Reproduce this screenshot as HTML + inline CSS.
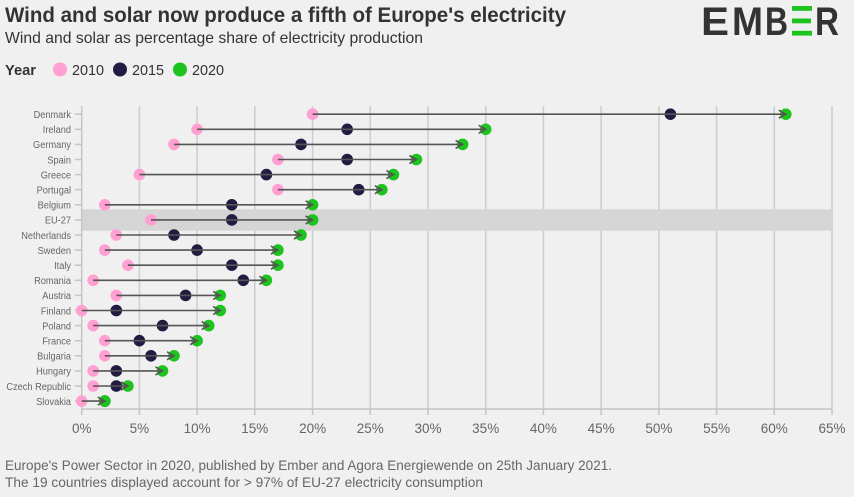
<!DOCTYPE html>
<html>
<head>
<meta charset="utf-8">
<style>
  html,body{margin:0;padding:0;background:#f0f0f0;}
  body{width:854px;height:497px;overflow:hidden;}
  svg{display:block;font-family:"Liberation Sans",sans-serif;}
  .p{fill:#ff9fd2;}
  .n{fill:#221c42;}
  .g{fill:#1ec41e;}
  .ln{stroke:#555;stroke-width:1.6;fill:none;}
  .lab{font-size:10.5px;fill:#666;text-anchor:end;}
  .tk{font-size:13.5px;fill:#666;text-anchor:middle;}
</style>
</head>
<body>
<svg width="854" height="497" viewBox="0 0 854 497" xmlns="http://www.w3.org/2000/svg">
  <rect x="0" y="0" width="854" height="497" fill="#f0f0f0"/>

  <!-- Title -->
  <text x="5" y="22" font-size="21" font-weight="bold" fill="#333" textLength="561" lengthAdjust="spacingAndGlyphs">Wind and solar now produce a fifth of Europe's electricity</text>
  <text x="5" y="43" font-size="16" fill="#333" textLength="418" lengthAdjust="spacingAndGlyphs">Wind and solar as percentage share of electricity production</text>

  <!-- Logo -->
  <g fill="#333" font-weight="bold" font-size="40">
    <text x="701" y="35" textLength="28" lengthAdjust="spacingAndGlyphs">E</text>
    <text x="732" y="35" textLength="31" lengthAdjust="spacingAndGlyphs">M</text>
    <text x="765" y="35" textLength="23" lengthAdjust="spacingAndGlyphs">B</text>
    <text x="815" y="35" textLength="24" lengthAdjust="spacingAndGlyphs">R</text>
  </g>
  <g fill="#1ec41e">
    <rect x="792" y="6" width="20" height="4.8"/>
    <rect x="792" y="18.5" width="19" height="4.8"/>
    <rect x="792" y="30.8" width="20" height="4.8"/>
  </g>

  <!-- Legend -->
  <text x="5" y="75" font-size="15" font-weight="bold" fill="#333" textLength="31" lengthAdjust="spacingAndGlyphs">Year</text>
  <circle cx="60" cy="69.5" r="7" class="p"/>
  <text x="72" y="75" font-size="15" fill="#333" textLength="32" lengthAdjust="spacingAndGlyphs">2010</text>
  <circle cx="120" cy="69.5" r="7" class="n"/>
  <text x="132" y="75" font-size="15" fill="#333" textLength="32" lengthAdjust="spacingAndGlyphs">2015</text>
  <circle cx="180" cy="69.5" r="7" class="g"/>
  <text x="192" y="75" font-size="15" fill="#333" textLength="32" lengthAdjust="spacingAndGlyphs">2020</text>

  <!-- Gridlines -->
  <g stroke="#cdcdcd" stroke-width="1.5">
    <line x1="139.4" y1="106" x2="139.4" y2="409"/>
    <line x1="197.1" y1="106" x2="197.1" y2="409"/>
    <line x1="254.8" y1="106" x2="254.8" y2="409"/>
    <line x1="312.6" y1="106" x2="312.6" y2="409"/>
    <line x1="370.3" y1="106" x2="370.3" y2="409"/>
    <line x1="428.0" y1="106" x2="428.0" y2="409"/>
    <line x1="485.7" y1="106" x2="485.7" y2="409"/>
    <line x1="543.4" y1="106" x2="543.4" y2="409"/>
    <line x1="601.1" y1="106" x2="601.1" y2="409"/>
    <line x1="658.9" y1="106" x2="658.9" y2="409"/>
    <line x1="716.6" y1="106" x2="716.6" y2="409"/>
    <line x1="774.3" y1="106" x2="774.3" y2="409"/>
    <line x1="832.0" y1="106" x2="832.0" y2="409"/>
  </g>

  <!-- EU-27 highlight band -->
  <rect x="81.7" y="209.3" width="750.3" height="21.4" fill="#d5d5d5"/>

  <!-- Axes -->
  <g stroke="#c4c4c4" stroke-width="1.5">
    <line x1="81.7" y1="106" x2="81.7" y2="409"/>
    <line x1="81.7" y1="409" x2="832" y2="409"/>
    <!-- x ticks -->
    <line x1="81.7" y1="409" x2="81.7" y2="415"/>
    <line x1="139.4" y1="409" x2="139.4" y2="415"/>
    <line x1="197.1" y1="409" x2="197.1" y2="415"/>
    <line x1="254.8" y1="409" x2="254.8" y2="415"/>
    <line x1="312.6" y1="409" x2="312.6" y2="415"/>
    <line x1="370.3" y1="409" x2="370.3" y2="415"/>
    <line x1="428.0" y1="409" x2="428.0" y2="415"/>
    <line x1="485.7" y1="409" x2="485.7" y2="415"/>
    <line x1="543.4" y1="409" x2="543.4" y2="415"/>
    <line x1="601.1" y1="409" x2="601.1" y2="415"/>
    <line x1="658.9" y1="409" x2="658.9" y2="415"/>
    <line x1="716.6" y1="409" x2="716.6" y2="415"/>
    <line x1="774.3" y1="409" x2="774.3" y2="415"/>
    <line x1="832.0" y1="409" x2="832.0" y2="415"/>
    <!-- y ticks -->
    <line x1="75" y1="114.2" x2="81.7" y2="114.2"/>
    <line x1="75" y1="129.3" x2="81.7" y2="129.3"/>
    <line x1="75" y1="144.4" x2="81.7" y2="144.4"/>
    <line x1="75" y1="159.5" x2="81.7" y2="159.5"/>
    <line x1="75" y1="174.6" x2="81.7" y2="174.6"/>
    <line x1="75" y1="189.7" x2="81.7" y2="189.7"/>
    <line x1="75" y1="204.8" x2="81.7" y2="204.8"/>
    <line x1="75" y1="219.9" x2="81.7" y2="219.9"/>
    <line x1="75" y1="235.0" x2="81.7" y2="235.0"/>
    <line x1="75" y1="250.1" x2="81.7" y2="250.1"/>
    <line x1="75" y1="265.2" x2="81.7" y2="265.2"/>
    <line x1="75" y1="280.3" x2="81.7" y2="280.3"/>
    <line x1="75" y1="295.4" x2="81.7" y2="295.4"/>
    <line x1="75" y1="310.5" x2="81.7" y2="310.5"/>
    <line x1="75" y1="325.6" x2="81.7" y2="325.6"/>
    <line x1="75" y1="340.7" x2="81.7" y2="340.7"/>
    <line x1="75" y1="355.8" x2="81.7" y2="355.8"/>
    <line x1="75" y1="370.9" x2="81.7" y2="370.9"/>
    <line x1="75" y1="386.0" x2="81.7" y2="386.0"/>
    <line x1="75" y1="401.1" x2="81.7" y2="401.1"/>
  </g>

  <!-- Y labels -->
  <g transform="translate(71,0) scale(0.88,1)">
    <text class="lab" x="0" y="118">Denmark</text>
    <text class="lab" x="0" y="133.1">Ireland</text>
    <text class="lab" x="0" y="148.2">Germany</text>
    <text class="lab" x="0" y="163.3">Spain</text>
    <text class="lab" x="0" y="178.4">Greece</text>
    <text class="lab" x="0" y="193.5">Portugal</text>
    <text class="lab" x="0" y="208.6">Belgium</text>
    <text class="lab" x="0" y="223.7">EU-27</text>
    <text class="lab" x="0" y="238.8">Netherlands</text>
    <text class="lab" x="0" y="253.9">Sweden</text>
    <text class="lab" x="0" y="269.0">Italy</text>
    <text class="lab" x="0" y="284.1">Romania</text>
    <text class="lab" x="0" y="299.2">Austria</text>
    <text class="lab" x="0" y="314.3">Finland</text>
    <text class="lab" x="0" y="329.4">Poland</text>
    <text class="lab" x="0" y="344.5">France</text>
    <text class="lab" x="0" y="359.6">Bulgaria</text>
    <text class="lab" x="0" y="374.7">Hungary</text>
    <text class="lab" x="0" y="389.8">Czech Republic</text>
    <text class="lab" x="0" y="404.9">Slovakia</text>
  </g>

  <!-- Rows -->
  <g transform="translate(0,114.2)"><circle cx="312.6" r="5.8" class="p"/><circle cx="670.4" r="5.8" class="n"/><circle cx="785.8" r="5.8" class="g"/><path class="ln" d="M312.6 0H785.8M778.8 -4L785.8 0L778.8 4"/></g>
  <g transform="translate(0,129.3)"><circle cx="197.1" r="5.8" class="p"/><circle cx="347.2" r="5.8" class="n"/><circle cx="485.7" r="5.8" class="g"/><path class="ln" d="M197.1 0H485.7M478.7 -4L485.7 0L478.7 4"/></g>
  <g transform="translate(0,144.4)"><circle cx="174.0" r="5.8" class="p"/><circle cx="301.0" r="5.8" class="n"/><circle cx="462.6" r="5.8" class="g"/><path class="ln" d="M174.0 0H462.6M455.6 -4L462.6 0L455.6 4"/></g>
  <g transform="translate(0,159.5)"><circle cx="277.9" r="5.8" class="p"/><circle cx="347.2" r="5.8" class="n"/><circle cx="416.4" r="5.8" class="g"/><path class="ln" d="M277.9 0H416.4M409.4 -4L416.4 0L409.4 4"/></g>
  <g transform="translate(0,174.6)"><circle cx="139.4" r="5.8" class="p"/><circle cx="266.4" r="5.8" class="n"/><circle cx="393.4" r="5.8" class="g"/><path class="ln" d="M139.4 0H393.4M386.4 -4L393.4 0L386.4 4"/></g>
  <g transform="translate(0,189.7)"><circle cx="277.9" r="5.8" class="p"/><circle cx="358.7" r="5.8" class="n"/><circle cx="381.8" r="5.8" class="g"/><path class="ln" d="M277.9 0H381.8M374.8 -4L381.8 0L374.8 4"/></g>
  <g transform="translate(0,204.8)"><circle cx="104.8" r="5.8" class="p"/><circle cx="231.8" r="5.8" class="n"/><circle cx="312.6" r="5.8" class="g"/><path class="ln" d="M104.8 0H312.6M305.6 -4L312.6 0L305.6 4"/></g>
  <g transform="translate(0,219.9)"><circle cx="151.0" r="5.8" class="p"/><circle cx="231.8" r="5.8" class="n"/><circle cx="312.6" r="5.8" class="g"/><path class="ln" d="M151.0 0H312.6M305.6 -4L312.6 0L305.6 4"/></g>
  <g transform="translate(0,235.0)"><circle cx="116.3" r="5.8" class="p"/><circle cx="174.0" r="5.8" class="n"/><circle cx="301.0" r="5.8" class="g"/><path class="ln" d="M116.3 0H301.0M294.0 -4L301.0 0L294.0 4"/></g>
  <g transform="translate(0,250.1)"><circle cx="104.8" r="5.8" class="p"/><circle cx="197.1" r="5.8" class="n"/><circle cx="277.9" r="5.8" class="g"/><path class="ln" d="M104.8 0H277.9M270.9 -4L277.9 0L270.9 4"/></g>
  <g transform="translate(0,265.2)"><circle cx="127.9" r="5.8" class="p"/><circle cx="231.8" r="5.8" class="n"/><circle cx="277.9" r="5.8" class="g"/><path class="ln" d="M127.9 0H277.9M270.9 -4L277.9 0L270.9 4"/></g>
  <g transform="translate(0,280.3)"><circle cx="93.2" r="5.8" class="p"/><circle cx="243.3" r="5.8" class="n"/><circle cx="266.4" r="5.8" class="g"/><path class="ln" d="M93.2 0H266.4M259.4 -4L266.4 0L259.4 4"/></g>
  <g transform="translate(0,295.4)"><circle cx="116.3" r="5.8" class="p"/><circle cx="185.6" r="5.8" class="n"/><circle cx="220.2" r="5.8" class="g"/><path class="ln" d="M116.3 0H220.2M213.2 -4L220.2 0L213.2 4"/></g>
  <g transform="translate(0,310.5)"><circle cx="81.7" r="5.8" class="p"/><circle cx="116.3" r="5.8" class="n"/><circle cx="220.2" r="5.8" class="g"/><path class="ln" d="M81.7 0H220.2M213.2 -4L220.2 0L213.2 4"/></g>
  <g transform="translate(0,325.6)"><circle cx="93.2" r="5.8" class="p"/><circle cx="162.5" r="5.8" class="n"/><circle cx="208.7" r="5.8" class="g"/><path class="ln" d="M93.2 0H208.7M201.7 -4L208.7 0L201.7 4"/></g>
  <g transform="translate(0,340.7)"><circle cx="104.8" r="5.8" class="p"/><circle cx="139.4" r="5.8" class="n"/><circle cx="197.1" r="5.8" class="g"/><path class="ln" d="M104.8 0H197.1M190.1 -4L197.1 0L190.1 4"/></g>
  <g transform="translate(0,355.8)"><circle cx="104.8" r="5.8" class="p"/><circle cx="151.0" r="5.8" class="n"/><circle cx="174.0" r="5.8" class="g"/><path class="ln" d="M104.8 0H174.0M167.0 -4L174.0 0L167.0 4"/></g>
  <g transform="translate(0,370.9)"><circle cx="93.2" r="5.8" class="p"/><circle cx="116.3" r="5.8" class="n"/><circle cx="162.5" r="5.8" class="g"/><path class="ln" d="M93.2 0H162.5M155.5 -4L162.5 0L155.5 4"/></g>
  <g transform="translate(0,386.0)"><circle cx="93.2" r="5.8" class="p"/><circle cx="116.3" r="5.8" class="n"/><circle cx="127.9" r="5.8" class="g"/><path class="ln" d="M93.2 0H127.9M120.9 -4L127.9 0L120.9 4"/></g>
  <g transform="translate(0,401.1)"><circle cx="81.7" r="5.8" class="p"/><circle cx="104.8" r="5.8" class="n"/><circle cx="104.8" r="5.8" class="g"/><path class="ln" d="M81.7 0H104.8M97.8 -4L104.8 0L97.8 4"/></g>

  <!-- X tick labels -->
  <g>
    <text class="tk" x="81.7" y="433">0%</text>
    <text class="tk" x="139.4" y="433">5%</text>
    <text class="tk" x="197.1" y="433">10%</text>
    <text class="tk" x="254.8" y="433">15%</text>
    <text class="tk" x="312.6" y="433">20%</text>
    <text class="tk" x="370.3" y="433">25%</text>
    <text class="tk" x="428.0" y="433">30%</text>
    <text class="tk" x="485.7" y="433">35%</text>
    <text class="tk" x="543.4" y="433">40%</text>
    <text class="tk" x="601.1" y="433">45%</text>
    <text class="tk" x="658.9" y="433">50%</text>
    <text class="tk" x="716.6" y="433">55%</text>
    <text class="tk" x="774.3" y="433">60%</text>
    <text class="tk" x="832.0" y="433">65%</text>
  </g>

  <!-- Footer -->
  <text x="5" y="470" font-size="14" fill="#666" textLength="607" lengthAdjust="spacingAndGlyphs">Europe's Power Sector in 2020, published by Ember and Agora Energiewende on 25th January 2021.</text>
  <text x="5" y="487" font-size="14" fill="#666" textLength="478" lengthAdjust="spacingAndGlyphs">The 19 countries displayed account for &gt; 97% of EU-27 electricity consumption</text>
</svg>
</body>
</html>
